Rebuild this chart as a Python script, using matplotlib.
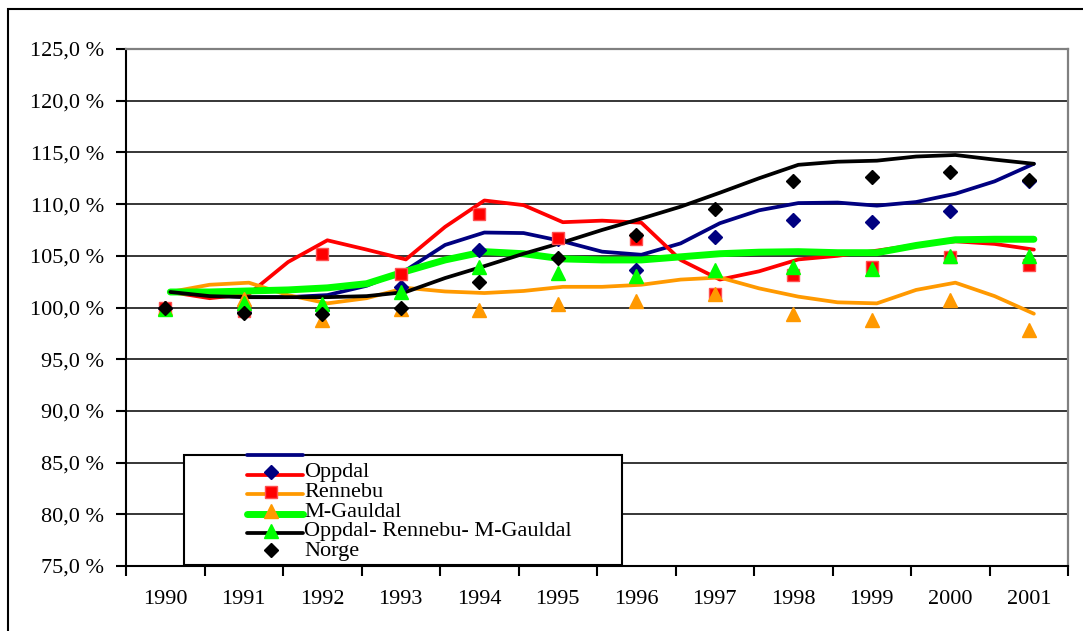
import numpy as np
import matplotlib.pyplot as plt
from matplotlib.lines import Line2D
from matplotlib.patches import Rectangle

plt.rcParams['font.family'] = ['Liberation Serif', 'DejaVu Serif']

years = ['1990', '1991', '1992', '1993', '1994', '1995',
         '1996', '1997', '1998', '1999', '2000', '2001']

# yearly index values (markers), 1990 = 100 %
oppdal = [100.0, 99.6, 99.8, 102.0, 105.6, 106.6, 103.6, 106.8, 108.5, 108.3, 109.3, 112.2]
rennebu = [100.0, 99.7, 105.2, 103.2, 109.0, 106.7, 106.6, 101.3, 103.1, 103.9, 104.9, 104.1]
m_gauldal = [100.0, 100.8, 98.8, 99.9, 99.8, 100.3, 100.6, 101.3, 99.4, 98.8, 100.7, 97.8]
region = [99.9, 100.4, 100.3, 101.5, 103.9, 103.3, 103.0, 103.6, 103.9, 103.7, 105.0, 105.0]
norge = [100.0, 99.5, 99.4, 100.0, 102.5, 104.8, 107.0, 109.5, 112.2, 112.6, 113.1, 112.3]

# smoothed lines, read every half year from 1990 to 2001
blue_line = [101.5, 101.2, 101.0, 101.0, 101.2, 102.1, 103.6, 106.05, 107.25, 107.2, 106.4, 105.4,
             105.1, 106.2, 108.15, 109.4, 110.1, 110.15, 109.85, 110.2, 111.0, 112.2, 113.9]
red_line = [101.5, 100.9, 101.3, 104.4, 106.5, 105.6, 104.65, 107.8, 110.35, 109.9, 108.25, 108.4,
            108.2, 104.6, 102.7, 103.5, 104.65, 105.0, 105.5, 106.05, 106.4, 106.15, 105.6]
orange_line = [101.5, 102.2, 102.4, 101.2, 100.4, 100.9, 101.9, 101.55, 101.4, 101.6, 102.0, 102.0,
               102.2, 102.7, 102.9, 101.85, 101.05, 100.5, 100.4, 101.7, 102.4, 101.1, 99.4]
green_line = [101.5, 101.5, 101.6, 101.7, 101.9, 102.3, 103.5, 104.6, 105.4, 105.2, 104.7, 104.6,
              104.6, 104.9, 105.2, 105.35, 105.4, 105.3, 105.3, 106.0, 106.55, 106.6, 106.6]
black_line = [101.5, 101.1, 101.0, 101.0, 101.0, 101.1, 101.5, 102.85, 104.0, 105.2, 106.3, 107.5,
              108.6, 109.75, 111.1, 112.5, 113.8, 114.1, 114.2, 114.6, 114.75, 114.3, 113.9]

labels = ['Oppdal', 'Rennebu', 'M-Gauldal', 'Oppdal- Rennebu- M-Gauldal', 'Norge']

NAVY = '#000080'
RED = '#ff0000'
ORANGE = '#ff9900'
GREEN = '#00ff00'
W, H = 1083, 631
LINE_SHIFT = 0.065

fig = plt.figure(figsize=(W / 100, H / 100), dpi=100)
ax = fig.add_axes([126 / W, 65 / H, 942 / W, 517 / H])

x = np.arange(len(years))
xh = np.arange(len(blue_line)) * 0.5 + LINE_SHIFT

line_styles = [(blue_line, NAVY, 2.7), (red_line, RED, 2.7), (orange_line, ORANGE, 2.7),
               (green_line, GREEN, 5.0), (black_line, 'black', 2.7)]
for vals, col, lw in line_styles:
    ax.plot(xh, vals, color=col, lw=lw, zorder=2, solid_joinstyle='round',
            solid_capstyle='round')

marker_styles = [(oppdal, 'D', NAVY, NAVY, 7), (rennebu, 's', RED, '#ff5050', 8),
                 (m_gauldal, '^', ORANGE, ORANGE, 9.5), (region, '^', GREEN, GREEN, 9.5),
                 (norge, 'D', 'black', 'black', 7)]
for vals, m, fc, ec, ms in marker_styles:
    ax.plot(x, vals, ls='none', marker=m, mfc=fc, mec=ec, ms=ms, zorder=3)

ax.set_xlim(-0.5, 11.5)
ax.set_ylim(75, 125)
yt = np.arange(75, 126, 5)
ax.set_yticks(yt, [f'{v:.1f} %'.replace('.', ',') for v in yt])
ax.set_xticks(x, years)
ax.set_xticks(np.arange(-0.5, 12, 1), minor=True)
ax.tick_params(axis='x', which='major', length=0, pad=17, labelsize=16)
ax.tick_params(axis='x', which='minor', length=7, width=1.5, direction='out')
ax.tick_params(axis='y', length=7, width=1.5, direction='out', pad=9, labelsize=16)
ax.yaxis.grid(True, color='black', lw=1.1)
ax.set_axisbelow(True)
for s in ['left', 'bottom']:
    ax.spines[s].set_linewidth(1.5)
for s in ['top', 'right']:
    ax.spines[s].set_color('#808080')
    ax.spines[s].set_linewidth(1.6)

# outer chart border
fig.add_artist(Rectangle((8 / W, -0.1), 1.2, 1 - 9 / H + 0.1, transform=fig.transFigure,
                         fill=False, ec='black', lw=1.5))


def fxy(px, py):
    return px / W, 1 - py / H


# legend box, drawn by hand to keep Excel's shifted layout
bx, by = fxy(184, 565)
fig.add_artist(Rectangle((bx, by), (622 - 184) / W, 110 / H, transform=fig.transFigure,
                         fc='white', ec='black', lw=1.5, zorder=5))
row = 19.6
for i, (vals, col, lw) in enumerate(line_styles):
    y0 = 455 + row * i
    (xa, ya), (xb, _) = fxy(247, y0), fxy(303, y0)
    fig.add_artist(Line2D([xa, xb], [ya, ya], color=col, lw=lw, transform=fig.transFigure,
                          zorder=6, solid_capstyle='round'))
for i, (vals, m, fc, ec, ms) in enumerate(marker_styles):
    mx, my = fxy(271, 472 + row * i)
    fig.add_artist(Line2D([mx], [my], ls='none', marker=m, mfc=fc, mec=ec, ms=ms,
                          transform=fig.transFigure, zorder=7))
    tx, ty = fxy(304, 473 + row * i)
    fig.text(tx, ty, labels[i], fontsize=16, va='center', ha='left', zorder=7)

fig.savefig('out.png', dpi=100)
